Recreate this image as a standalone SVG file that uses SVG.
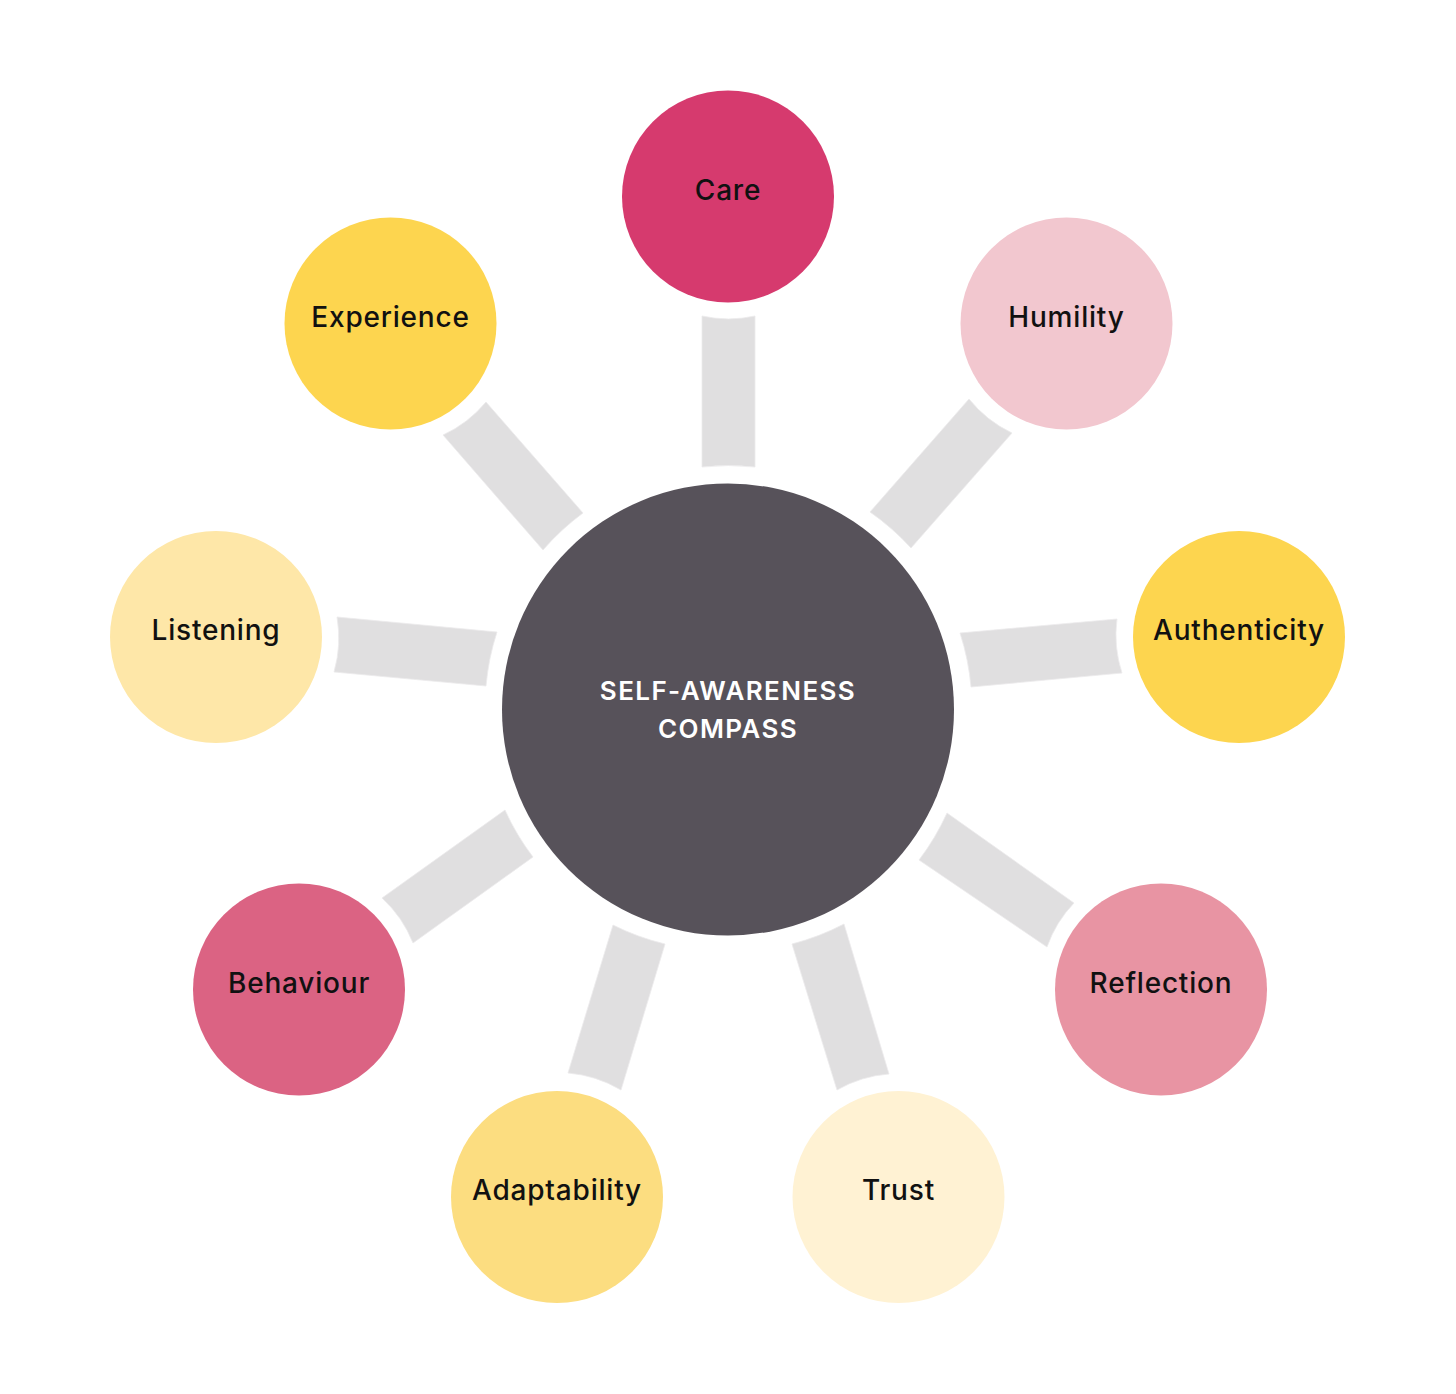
<svg xmlns="http://www.w3.org/2000/svg" width="1456" height="1394" viewBox="0 0 1456 1394">
<style>
.bar{fill:#E0DFE0;stroke:#ECEBEC;stroke-width:0.8}
.lbl{font-family:Inter,"DejaVu Sans",sans-serif;font-size:28px;font-weight:500;fill:#111111;text-anchor:middle;letter-spacing:0.8px}
.ctr{font-family:Inter,"DejaVu Sans",sans-serif;font-size:26px;font-weight:600;fill:#FFFFFF;text-anchor:middle;letter-spacing:1.4px}
</style>
<rect width="1456" height="1394" fill="#FFFFFF"/>
<g id="connectors">
<path class="bar" d="M702,467 L702,316 A123,123 0 0 0 755,316 L755,467 A244,244 0 0 0 702,467 Z"/>
<path class="bar" d="M870,512 L969,399 A123,123 0 0 0 1012,433 L911,548 A244,244 0 0 0 870,512 Z"/>
<path class="bar" d="M960,633 L1117,619 A123,123 0 0 0 1122,673 L971,687 A244,244 0 0 0 960,633 Z"/>
<path class="bar" d="M947,813 L1074,903 A123,123 0 0 0 1047,947 L919,860 A244,244 0 0 0 947,813 Z"/>
<path class="bar" d="M844,924 L889,1074 A123,123 0 0 0 837,1090 L792,944 A244,244 0 0 0 844,924 Z"/>
<path class="bar" d="M665,944 L621,1090 A123,123 0 0 0 568,1073 L613,925 A244,244 0 0 0 665,944 Z"/>
<path class="bar" d="M533,857 L413,943 A123,123 0 0 0 382,898 L505,810 A244,244 0 0 0 533,857 Z"/>
<path class="bar" d="M486,686 L334,672 A123,123 0 0 0 337,617 L497,632 A244,244 0 0 0 486,686 Z"/>
<path class="bar" d="M543,550 L443,435 A123,123 0 0 0 486,402 L583,513 A244,244 0 0 0 543,550 Z"/>
</g>
<g id="center">
<circle cx="728" cy="709.5" r="226" fill="#57525A"/>
<text class="ctr" x="728" y="700">SELF-AWARENESS</text>
<text class="ctr" x="728" y="738">COMPASS</text>
</g>
<g id="care">
<circle cx="728" cy="196.5" r="106" fill="#D63A6E"/>
<text class="lbl" x="728" y="200">Care</text>
</g>
<g id="humility">
<circle cx="1066.5" cy="323.5" r="106" fill="#F2C7CF"/>
<text class="lbl" x="1066.5" y="327">Humility</text>
</g>
<g id="authenticity">
<circle cx="1239" cy="637" r="106" fill="#FDD54F"/>
<text class="lbl" x="1239" y="640">Authenticity</text>
</g>
<g id="reflection">
<circle cx="1161" cy="989.5" r="106" fill="#E894A3"/>
<text class="lbl" x="1161" y="993">Reflection</text>
</g>
<g id="trust">
<circle cx="898.5" cy="1197" r="106" fill="#FFF2D3"/>
<text class="lbl" x="898.5" y="1200">Trust</text>
</g>
<g id="adaptability">
<circle cx="557" cy="1197" r="106" fill="#FCDD80"/>
<text class="lbl" x="557" y="1200">Adaptability</text>
</g>
<g id="behaviour">
<circle cx="299" cy="989.5" r="106" fill="#DB6383"/>
<text class="lbl" x="299" y="993">Behaviour</text>
</g>
<g id="listening">
<circle cx="216" cy="637" r="106" fill="#FEE7A8"/>
<text class="lbl" x="216" y="640">Listening</text>
</g>
<g id="experience">
<circle cx="390.5" cy="323.5" r="106" fill="#FDD54F"/>
<text class="lbl" x="390.5" y="327">Experience</text>
</g>
</svg>
